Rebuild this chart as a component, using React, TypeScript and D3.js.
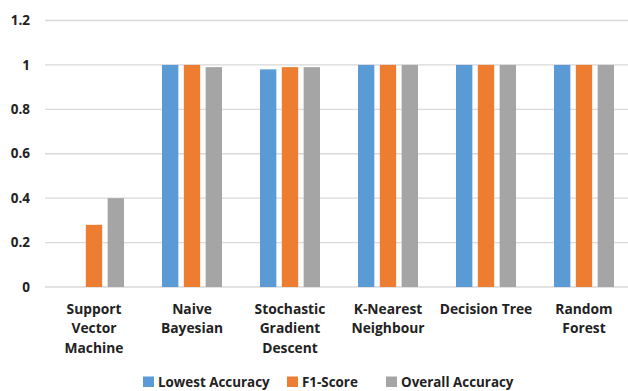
import React from "react";
import * as d3 from "d3";

const categories: string[][] = [
  ["Support", "Vector", "Machine"],
  ["Naive", "Bayesian"],
  ["Stochastic", "Gradient", "Descent"],
  ["K-Nearest", "Neighbour"],
  ["Decision Tree"],
  ["Random", "Forest"],
];
const seriesNames = ["Lowest Accuracy", "F1-Score", "Overall Accuracy"];
const lowestAccuracy = [0, 1, 0.98, 1, 1, 1];
const f1Score = [0.28, 1, 0.99, 1, 1, 1];
const overallAccuracy = [0.4, 0.99, 0.99, 1, 1, 1];
const yTicks = [0, 0.2, 0.4, 0.6, 0.8, 1, 1.2];
const colors = ["#5B9BD5", "#ED7D31", "#A5A5A5"];

const W = 628;
const H = 391;
const font = "'Open Sans', sans-serif";

export default function App() {
  const series = [lowestAccuracy, f1Score, overallAccuracy];
  const keys = categories.map((c) => c.join(" "));
  const x = d3.scaleBand<string>().domain(keys).range([45, 633]).padding(0);
  const inner = d3
    .scaleBand<number>()
    .domain([0, 1, 2])
    .range([-30, 30])
    .paddingInner(0.25)
    .paddingOuter(0);
  const y = d3.scaleLinear().domain([0, 1.2]).range([287, 20.5]);

  const legendX = [143, 287, 386];

  return (
    <svg
      width={W}
      height={H}
      style={{ position: "absolute", left: 0, top: 0, background: "#fff" }}
      fontFamily={font}
    >
      {yTicks.map((t) => (
        <g key={t}>
          <line
            x1={45}
            x2={W}
            y1={y(t)}
            y2={y(t)}
            stroke="#D9D9D9"
            strokeWidth={1.3}
          />
          <text
            x={30}
            y={y(t)}
            dy="0.35em"
            textAnchor="end"
            fontSize={13.5}
            fontWeight={700}
            fill="#222"
          >
            {d3.format("~g")(t)}
          </text>
        </g>
      ))}
      {keys.map((k, i) => (
        <g key={k} transform={`translate(${(x(k) ?? 0) + x.bandwidth() / 2},0)`}>
          {series.map((s, j) => (
            <rect
              key={j}
              x={inner(j)}
              width={inner.bandwidth()}
              y={y(s[i])}
              height={y(0) - y(s[i])}
              fill={colors[j]}
            />
          ))}
          {categories[i].map((line, li) => (
            <text
              key={li}
              x={0}
              y={313.5 + li * 19.8}
              textAnchor="middle"
              fontSize={13.8}
              fontWeight={700}
              fill="#222"
            >
              {line}
            </text>
          ))}
        </g>
      ))}
      {seriesNames.map((name, j) => (
        <g key={name} transform={`translate(${legendX[j]},376.5)`}>
          <rect x={0} y={0} width={11} height={10.5} fill={colors[j]} />
          <text x={15} y={10} fontSize={13.4} fontWeight={700} fill="#222">
            {name}
          </text>
        </g>
      ))}
    </svg>
  );
}
